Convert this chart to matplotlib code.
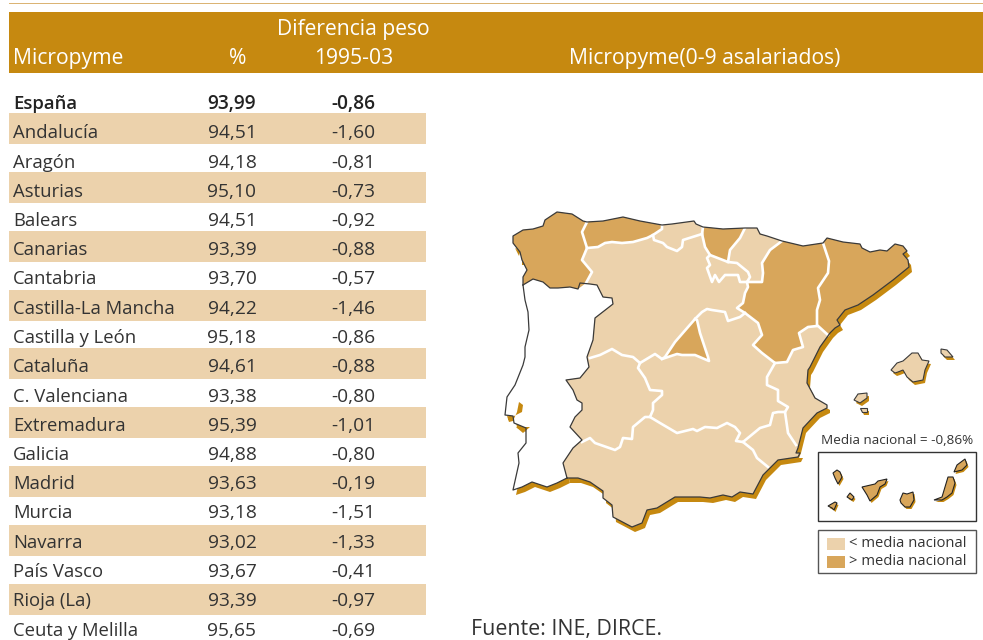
import numpy as np
import matplotlib
matplotlib.use('Agg')
import matplotlib.pyplot as plt
from matplotlib.patches import Polygon, Rectangle

plt.rcParams['font.family'] = ['Open Sans', 'DejaVu Sans']

# Table data
regions = ['España', 'Andalucía', 'Aragón', 'Asturias', 'Balears', 'Canarias', 'Cantabria',
           'Castilla-La Mancha', 'Castilla y León', 'Cataluña', 'C. Valenciana', 'Extremadura',
           'Galicia', 'Madrid', 'Murcia', 'Navarra', 'País Vasco', 'Rioja (La)', 'Ceuta y Melilla']
pct = ['93,99', '94,51', '94,18', '95,10', '94,51', '93,39', '93,70', '94,22', '95,18', '94,61',
       '93,38', '95,39', '94,88', '93,63', '93,18', '93,02', '93,67', '93,39', '95,65']
diff = ['-0,86', '-1,60', '-0,81', '-0,73', '-0,92', '-0,88', '-0,57', '-1,46', '-0,86', '-0,88',
        '-0,80', '-1,01', '-0,80', '-0,19', '-1,51', '-1,33', '-0,41', '-0,97', '-0,69']

# Map outlines, in picture pixels
pt_border = [(523, 285), (533, 279), (543, 282), (550, 288), (558, 288), (570, 287), (578, 289), (580, 283),
             (590, 284), (597, 285), (603, 297), (612, 298), (613, 304), (595, 318), (593, 340), (587, 357),
             (589, 367), (580, 378), (566, 380), (573, 390), (577, 400), (582, 403), (582, 410), (575, 417),
             (570, 427), (582, 440), (573, 448), (563, 463), (567, 478)]
pt_coast = [(523, 285), (525, 300), (528, 312), (529, 330), (525, 347), (525, 357), (523, 365), (515, 385),
            (507, 397), (505, 415), (513, 416), (514, 423), (526, 428), (526, 443), (518, 453), (519, 463),
            (513, 490), (522, 487), (532, 482), (547, 487), (557, 483), (567, 478)]
es_coast = [(567, 478), (578, 478), (590, 482), (603, 491), (603, 498), (612, 505), (613, 517), (632, 527),
            (642, 523), (647, 510), (657, 508), (675, 497), (700, 497), (710, 498), (723, 495), (732, 497),
            (740, 492), (753, 494), (763, 475), (770, 468), (778, 460), (798, 457), (800, 453), (796, 453),
            (798, 448), (803, 428), (817, 413), (827, 408), (827, 405), (815, 398), (807, 383), (808, 370),
            (810, 367), (820, 347), (830, 333), (835, 328), (840, 325), (837, 320), (845, 310), (858, 305),
            (873, 295), (893, 280), (909, 267), (908, 260), (903, 254), (907, 251), (903, 246), (895, 244),
            (887, 251), (880, 250), (870, 252), (862, 248), (860, 244), (843, 242), (827, 238), (823, 243),
            (803, 246), (782, 241), (767, 236), (760, 234), (757, 228), (745, 228), (723, 229), (703, 227),
            (696, 224), (694, 221), (672, 224), (662, 225), (640, 221), (623, 217), (603, 221), (587, 222),
            (583, 221), (572, 214), (557, 212), (545, 220), (543, 226), (533, 229), (523, 230), (513, 236),
            (513, 243), (520, 252), (522, 260), (527, 270), (523, 277), (523, 285)]

galicia = [(523, 285), (523, 277), (527, 270), (522, 260), (520, 252), (513, 243), (513, 236), (523, 230),
           (533, 229), (543, 226), (545, 220), (557, 212), (572, 214), (583, 221), (587, 222), (582, 232),
           (587, 248), (582, 260), (592, 272), (586, 283), (578, 289), (570, 287), (558, 288), (550, 288),
           (543, 282), (533, 279)]
asturias = [(587, 222), (603, 221), (623, 217), (640, 221), (662, 225), (662, 229), (653, 235), (647, 238),
            (633, 242), (622, 243), (612, 242), (605, 243), (598, 247), (587, 248), (582, 232)]
pais_vasco = [(703, 227), (723, 229), (745, 228), (740, 238), (730, 250), (728, 262), (710, 255), (705, 247)]
aragon = [(782, 241), (803, 246), (823, 243), (829, 261), (828, 273), (818, 288), (820, 300), (817, 310),
          (817, 325), (808, 327), (799, 333), (803, 347), (793, 350), (787, 362), (775, 363), (762, 353),
          (753, 345), (762, 335), (758, 323), (745, 313), (737, 308), (743, 303), (745, 293), (748, 287),
          (747, 282), (762, 282), (763, 273), (762, 263), (770, 250)]
cataluna = [(823, 243), (827, 238), (843, 242), (860, 244), (862, 248), (870, 252), (880, 250), (887, 251),
            (895, 244), (903, 246), (907, 251), (903, 254), (908, 260), (909, 267), (893, 280), (873, 295),
            (858, 305), (845, 310), (837, 320), (840, 325), (835, 328), (828, 335), (817, 325), (817, 310),
            (820, 300), (818, 288), (828, 273), (829, 261)]
madrid = [(665, 357), (675, 342), (693, 320), (697, 320), (700, 333), (708, 357), (709, 361), (695, 355),
          (682, 355), (677, 354)]
dark_regions = [galicia, asturias, pais_vasco, aragon, cataluna, madrid]

white_lines = [
    [(587, 222), (582, 232), (587, 248), (582, 260), (592, 272), (586, 283)],
    [(662, 225), (662, 229), (653, 235), (647, 238), (633, 242), (622, 243), (612, 242), (605, 243), (598, 247), (587, 248)],
    [(653, 235), (654, 240), (663, 243), (667, 247), (677, 251), (682, 247), (683, 240), (702, 234), (703, 227)],
    [(702, 234), (705, 247), (710, 255), (707, 258), (710, 265), (707, 268), (712, 282), (715, 275), (719, 282),
     (725, 275), (738, 275), (740, 282), (747, 282)],
    [(710, 255), (728, 262), (737, 263), (748, 272), (750, 277), (747, 282), (762, 282), (763, 273), (762, 263),
     (770, 250), (782, 241)],
    [(728, 262), (730, 250), (740, 238), (745, 228)],
    [(823, 243), (829, 261), (828, 273), (818, 288), (820, 300), (817, 310), (817, 325), (828, 335)],
    [(817, 326), (808, 327), (799, 333), (803, 347), (793, 350), (787, 362), (775, 363), (762, 353), (753, 345),
     (762, 335), (758, 323), (745, 313), (737, 308), (743, 303), (745, 293), (748, 287), (747, 282)],
    [(745, 313), (740, 317), (728, 321), (725, 312), (712, 310), (707, 309), (702, 312), (695, 319), (675, 342),
     (665, 357), (662, 359), (655, 354), (640, 363), (633, 357), (622, 355), (612, 349), (600, 355), (590, 358)],
    [(695, 319), (697, 320), (700, 333), (708, 357), (709, 361), (695, 355), (682, 355), (677, 354), (662, 359)],
    [(640, 363), (638, 368), (645, 378), (650, 390), (662, 391), (662, 395), (653, 403), (653, 410), (650, 417),
     (645, 417), (633, 427), (632, 439), (623, 438), (620, 447), (615, 450), (595, 443), (590, 438), (582, 442)],
    [(650, 417), (660, 423), (677, 433), (693, 429), (697, 431), (705, 427), (717, 428), (727, 423), (735, 427),
     (740, 433), (736, 441), (743, 442), (760, 428), (770, 425), (773, 413), (778, 412), (785, 412), (788, 407),
     (778, 401), (778, 390), (767, 385), (767, 377), (775, 363)],
    [(785, 412), (788, 433), (796, 445)],
    [(743, 442), (753, 450), (757, 458), (768, 467)],
]

mallorca = [(891, 370), (897, 363), (903, 361), (912, 353), (918, 353), (922, 360), (929, 361), (925, 370),
            (923, 380), (913, 382), (907, 377), (903, 370), (898, 372), (895, 373)]
menorca = [(941, 349), (947, 350), (953, 357), (945, 357), (941, 353)]
ibiza = [(854, 400), (858, 394), (867, 393), (867, 398), (860, 403)]
formentera = [(860, 408), (867, 408), (867, 412), (862, 412)]
balearics = [mallorca, menorca, ibiza, formentera]

hierro = [(828, 506), (835, 502), (837, 503), (834, 510), (832, 508)]
gomera = [(847, 497), (850, 493), (854, 497), (852, 500)]
la_palma = [(833, 473), (837, 470), (840, 472), (842, 477), (838, 484), (835, 478)]
tenerife = [(862, 487), (875, 484), (878, 481), (887, 479), (885, 484), (880, 487), (877, 495), (870, 501), (867, 495)]
gran_canaria = [(900, 500), (903, 493), (907, 494), (913, 492), (914, 500), (910, 507), (905, 507), (901, 503)]
fuerteventura = [(934, 500), (942, 497), (945, 487), (948, 477), (953, 477), (955, 483), (952, 493), (947, 497), (942, 500)]
lanzarote = [(954, 472), (957, 465), (965, 459), (967, 465), (962, 470)]
canaries = [hierro, gomera, la_palma, tenerife, gran_canaria, fuerteventura, lanzarote]

estuaries = [[(517, 412), (519, 402), (523, 405), (522, 412), (512, 417), (507, 416), (509, 422), (513, 421)],
             [(516, 427), (530, 427), (523, 433)],
             [(515, 248), (520, 252), (519, 256)],
             [(522, 260), (526, 260), (525, 265), (522, 265)],
             [(903, 254), (908, 256), (905, 258)]]

gold = '#C68910'
light = '#ECD2AC'
dark = '#D8A65B'
ink = '#333333'
outline = '#3a3a3a'

fig = plt.figure(figsize=(9.83, 6.4), dpi=100)
ax = fig.add_axes([0, 0, 1, 1])
ax.set_xlim(0, 983)
ax.set_ylim(640, 0)
ax.axis('off')


def poly(pts, color, shift=(0, 0), edge='none', lw=0, z=2):
    p = np.array(pts, dtype=float) + shift
    ax.add_patch(Polygon(p, closed=True, facecolor=color, edgecolor=edge, linewidth=lw, zorder=z))


# Header
ax.add_patch(Rectangle((9, 2.5), 974, 1.8, color='#DBB474', lw=0))
ax.add_patch(Rectangle((9, 12), 974, 61, color=gold, lw=0))
ax.text(13, 64, 'Micropyme', color='white', fontsize=15.2)
ax.text(238, 64, '%', color='white', fontsize=15.2, ha='center')
ax.text(353.5, 35, 'Diferencia peso', color='white', fontsize=15.2, ha='center')
ax.text(354, 64, '1995-03', color='white', fontsize=15.2, ha='center')
ax.text(705, 64, 'Micropyme(0-9 asalariados)', color='white', fontsize=15.2, ha='center')

# Table rows
for i in range(len(regions)):
    y = 109 + i * 29.25
    if i % 2 == 1:
        ax.add_patch(Rectangle((9, 113 + (i - 1) * 29.43), 417, 31, color=light, lw=0))
    w = 'semibold' if i == 0 else 'normal'
    c = '#222222' if i == 0 else ink
    ax.text(13, y, regions[i], color=c, fontsize=13.3, fontweight=w, zorder=3)
    ax.text(232, y, pct[i], color=c, fontsize=13.8, fontweight=w, ha='center', zorder=3)
    ax.text(353.5, y, diff[i], color=c, fontsize=13.8, fontweight=w, ha='center', zorder=3)

ax.text(471, 635, 'Fuente: INE, DIRCE.', color=ink, fontsize=15.4)

# Map, shadow first
poly(es_coast + pt_border, gold, shift=(3, 5), z=1)
poly(pt_coast + pt_border[::-1], gold, shift=(3, 5), z=1)
poly(pt_coast + pt_border[::-1], 'white', z=2)
for e in estuaries:
    poly(e, gold, z=2)
poly(es_coast + pt_border, light, z=2)
for r in dark_regions:
    poly(r, dark, z=3)
for l in white_lines:
    pts = np.array(l)
    ax.plot(pts[:, 0], pts[:, 1], color='white', lw=1.9, solid_joinstyle='round', zorder=4)
for line in [pt_border, pt_coast, es_coast]:
    pts = np.array(line)
    ax.plot(pts[:, 0], pts[:, 1], color=outline, lw=0.9, zorder=5)

for b in balearics:
    poly(b, gold, shift=(2, 3), z=1)
    poly(b, light, edge=outline, lw=0.8, z=2)

# Canaries box and legend
ax.text(897, 444, 'Media nacional = -0,86%', color=ink, fontsize=9.7, ha='center')
ax.add_patch(Rectangle((817.5, 451.5), 158, 69, fill=False, edgecolor=ink, lw=1))
for c in canaries:
    poly(c, gold, shift=(1.5, 2), z=1)
    poly(c, dark, edge='#222222', lw=0.8, z=2)

ax.add_patch(Rectangle((817.5, 529.5), 158, 43, fill=False, edgecolor='#555555', lw=1))
ax.add_patch(Rectangle((827, 538), 18, 12, color=light, lw=0))
ax.add_patch(Rectangle((827, 556), 18, 12, color=dark, lw=0))
ax.text(849, 547, '< media nacional', color=ink, fontsize=10.6)
ax.text(849, 565, '> media nacional', color=ink, fontsize=10.6)

fig.savefig('out.png', dpi=100)
